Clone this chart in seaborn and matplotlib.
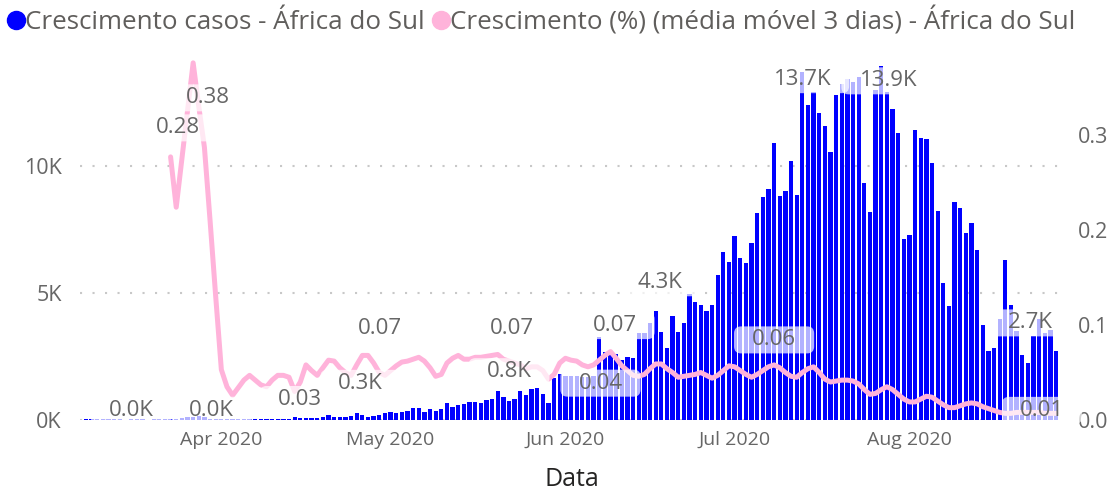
import pandas as pd
import matplotlib
matplotlib.use("Agg")
import matplotlib.pyplot as plt
import seaborn as sns
from matplotlib.lines import Line2D
from matplotlib.patches import FancyBboxPatch
from matplotlib.transforms import IdentityTransform

# casos novos por dia - África do Sul, a partir de 8 mar 2020
casos = [
    30, 40, 40, 30, 40, 30, 30, 0, 30, 40,
    30, 0, 40, 40, 40, 40, 50, 70, 110, 130,
    160, 120, 40, 30, 40, 40, 40, 40, 40, 40,
    50, 40, 40, 50, 40, 40, 50, 105, 67, 67,
    67, 80, 133, 200, 105, 105, 133, 160, 262, 200,
    133, 160, 200, 262, 330, 290, 330, 370, 460, 460,
    330, 420, 370, 420, 656, 525, 590, 630, 695, 722,
    656, 787, 827, 1155, 919, 761, 814, 1142, 984, 1207,
    1247, 1024, 656, 1640, 1800, 1730, 1720, 1730, 1700, 1690,
    1750, 3280, 2690, 2650, 2600, 2360, 2490, 2440, 3440, 3440,
    3830, 4300, 3480, 2820, 4110, 3480, 3830, 4960, 4630, 4530,
    4300, 4530, 5710, 6600, 6230, 7240, 6360, 6170, 6980, 8160,
    8770, 9090, 10890, 8820, 9000, 10180, 8850, 13710, 12400, 12900,
    12100, 11590, 10540, 12800, 13210, 13410, 13320, 13490, 9340, 8190,
    13000, 13940, 12900, 12230, 11290, 7130, 7280, 11420, 11090, 11050,
    10130, 8230, 5410, 4490, 8600, 8330, 7350, 7740, 6690, 3740,
    2700, 2820, 3980, 6300, 4530, 3500, 2560, 2240, 3300, 3980,
    3430, 3540, 2720,
]

# crescimento (%) média móvel 3 dias, começa no dia 15 da série (23 mar)
crescimento = [
    0.277, 0.224, 0.275, 0.325, 0.376, 0.33, 0.287, 0.21, 0.13, 0.053,
    0.035, 0.026, 0.034, 0.042, 0.047, 0.042, 0.037, 0.035, 0.042, 0.047,
    0.047, 0.045, 0.030, 0.04, 0.058, 0.052, 0.047, 0.055, 0.063, 0.062,
    0.055, 0.05, 0.047, 0.058, 0.068, 0.068, 0.06, 0.05, 0.047, 0.052,
    0.057, 0.061, 0.062, 0.064, 0.066, 0.062, 0.055, 0.046, 0.048, 0.06,
    0.065, 0.068, 0.064, 0.064, 0.066, 0.066, 0.067, 0.068, 0.069, 0.064,
    0.062, 0.06, 0.058, 0.054, 0.056, 0.056, 0.052, 0.043, 0.048, 0.06,
    0.065, 0.063, 0.062, 0.058, 0.056, 0.058, 0.063, 0.068, 0.072, 0.065,
    0.057, 0.052, 0.047, 0.046, 0.048, 0.054, 0.059, 0.059, 0.054, 0.05,
    0.045, 0.046, 0.047, 0.048, 0.05, 0.047, 0.044, 0.047, 0.052, 0.057,
    0.056, 0.052, 0.048, 0.045, 0.048, 0.052, 0.056, 0.058, 0.055, 0.05,
    0.046, 0.045, 0.05, 0.054, 0.056, 0.05, 0.043, 0.04, 0.041, 0.042,
    0.042, 0.041, 0.038, 0.032, 0.027, 0.028, 0.032, 0.035, 0.032, 0.027,
    0.022, 0.019, 0.019, 0.022, 0.025, 0.024, 0.02, 0.016, 0.013, 0.013,
    0.015, 0.017, 0.018, 0.017, 0.014, 0.012, 0.01, 0.008, 0.007, 0.007,
    0.008, 0.008, 0.008, 0.008, 0.008, 0.007, 0.007, 0.007,
]

datas = pd.date_range("2020-03-08", periods=len(casos), freq="D")
inicio_linha = len(casos) - len(crescimento)

serie_casos = "Crescimento casos - África do Sul"
serie_cresc = "Crescimento (%) (média móvel 3 dias) - África do Sul"

# rótulos de dados: (índice do dia, deslocamento x px, deslocamento y px)
rotulos_casos = [(8, 0, 9), (23, -4, 9), (48, 4, 30), (75, 0, 29),
                 (101, 4, 28), (127, 0, -8), (141, 7, -15), (172, -26, 28)]
rotulos_cresc = [(15, 7, 29), (19, 15, -35), (37, 5, -8), (50, 12, 27),
                 (73, 14, 26), (93, 4, 26), (82, 52, -4), (122, 0, 25),
                 (172, -14, 3)]

azul = "#0000FF"
rosa = "#FFB3DA"
cinza = "#666666"

df = pd.DataFrame({"dia": range(len(casos)), "data": datas, "casos": casos})
dl = pd.DataFrame({"dia": range(inicio_linha, len(casos)), "cresc": crescimento})

sns.set_theme(style="white")
plt.rcParams["font.family"] = ["Open Sans", "DejaVu Sans"]

W, H = 1117, 495
fig = plt.figure(figsize=(W / 100, H / 100), dpi=100)
ax = fig.add_axes([80 / W, 75 / H, (1064 - 80) / W, 360 / H])

sns.barplot(data=df, x="dia", y="casos", ax=ax, color=azul, saturation=1,
            width=0.76, native_scale=True, errorbar=None, linewidth=0)

ax2 = ax.twinx()
sns.lineplot(data=dl, x="dia", y="cresc", ax=ax2, color=rosa, linewidth=3.6,
             legend=False)

ax.set_xlim(-1.06, 173.4)
ax.set_ylim(0, 14170)
ax2.set_ylim(0, 0.379)

ax.set_yticks([0, 5000, 10000])
ax.set_yticklabels(["0K", "5K", "10K"])
ax2.set_yticks([0, 0.1, 0.2, 0.3])
ax2.set_yticklabels(["0.0", "0.1", "0.2", "0.3"])

inicio_mes = [i for i, d in enumerate(datas) if d.day == 1]
ax.set_xticks(inicio_mes)
ax.set_xticklabels([datas[i].strftime("%b %Y") for i in inicio_mes])

ax.tick_params(axis="y", length=0, pad=13, labelsize=15.5, labelcolor=cinza)
ax2.tick_params(axis="y", length=0, pad=10, labelsize=15.5, labelcolor=cinza)
ax.tick_params(axis="x", length=0, pad=8, labelsize=14, labelcolor=cinza)
ax.set_xlabel("Data", fontsize=18, color="#252423", labelpad=13)
ax.set_ylabel("")
ax2.set_ylabel("")

ax.yaxis.grid(True, linestyle=(0, (1, 5)), color="#C8C8C8", linewidth=1.5)
ax.set_axisbelow(True)
for a in (ax, ax2):
    for s in a.spines.values():
        s.set_visible(False)

textos = []
for i, dx, dy in rotulos_casos:
    v = casos[i]
    t = ax2.annotate(f"{v / 1000:.1f}K", xy=(i, v), xycoords=ax.transData,
                     xytext=(dx * 0.72, dy * 0.72), textcoords="offset points",
                     ha="center", va="center", fontsize=16, color=cinza,
                     annotation_clip=False, zorder=6)
    textos.append(t)

for i, dx, dy in rotulos_cresc:
    v = crescimento[i - inicio_linha]
    t = ax2.annotate(f"{v:.2f}", xy=(i, v), xytext=(dx * 0.72, dy * 0.72),
                     textcoords="offset points", ha="center", va="center",
                     fontsize=16, color=cinza, annotation_clip=False, zorder=6)
    textos.append(t)

# fundo translúcido dos rótulos, como no Power BI
fig.canvas.draw()
for t in textos:
    bb = t.get_window_extent()
    fundo = FancyBboxPatch((bb.x0 - 18, bb.y0 - 3), bb.width + 36, bb.height + 6,
                           boxstyle="round,pad=0,rounding_size=7",
                           transform=IdentityTransform(), fc="white",
                           ec="none", alpha=0.7, zorder=5, clip_on=False)
    ax2.add_artist(fundo)

handles = [Line2D([], [], marker="o", ls="", color=azul, markersize=13),
           Line2D([], [], marker="o", ls="", color=rosa, markersize=13)]
fig.legend(handles, [serie_casos, serie_cresc], loc="upper left",
           bbox_to_anchor=(-0.004, 1.014), ncol=2, frameon=False, fontsize=18.7,
           handlelength=0.6, handletextpad=0.05, columnspacing=0.3,
           borderaxespad=0.1, labelcolor="#605E5C")

fig.savefig("out.png", dpi=100)
